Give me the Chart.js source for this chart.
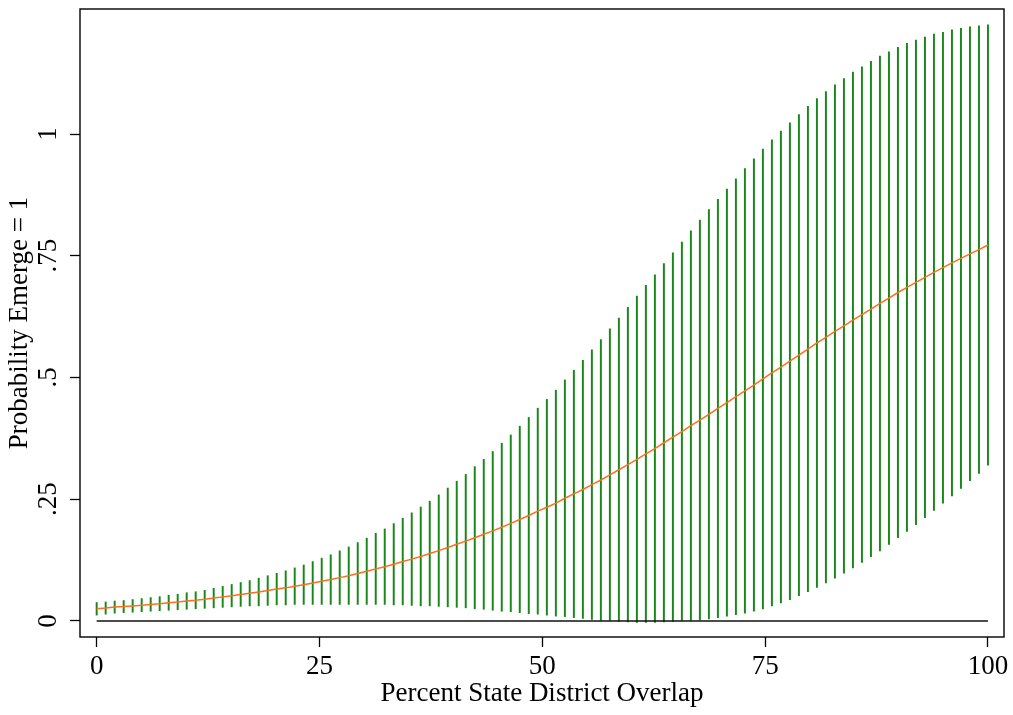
<!DOCTYPE html>
<html>
<head>
<meta charset="utf-8">
<script src="https://cdn.jsdelivr.net/npm/chart.js@4.4.1/dist/chart.umd.min.js"></script>
<style>
html,body{margin:0;padding:0;background:#fff;}
#wrap{width:1013px;height:715px;}
</style>
</head>
<body>
<div id="wrap"><canvas id="c" width="1013" height="715"></canvas></div>
<script>
// Percent State District Overlap (x positions of the 100 estimates)
const overlap = [0,1.01,2.02,3.03,4.04,5.05,6.06,7.07,8.08,9.09,
10.10,11.11,12.12,13.13,14.14,15.15,16.16,17.17,18.18,19.19,
20.20,21.21,22.22,23.23,24.24,25.25,26.26,27.27,28.28,29.29,
30.30,31.31,32.32,33.33,34.34,35.35,36.36,37.37,38.38,39.39,
40.40,41.41,42.42,43.43,44.44,45.45,46.46,47.47,48.48,49.49,
50.51,51.52,52.53,53.54,54.55,55.56,56.57,57.58,58.59,59.60,
60.61,61.62,62.63,63.64,64.65,65.66,66.67,67.68,68.69,69.70,
70.71,71.72,72.73,73.74,74.75,75.76,76.77,77.78,78.79,79.80,
80.81,81.82,82.83,83.84,84.85,85.86,86.87,87.88,88.89,89.90,
90.91,91.92,92.93,93.94,94.95,95.96,96.97,97.98,98.99,100];

// Predicted probability (orange line)
const predicted = [0.025,0.0265,0.0285,0.0295,0.031,0.0325,0.034,0.0355,0.0375,0.039,
0.041,0.0425,0.0445,0.047,0.0495,0.052,0.0545,0.057,0.0595,0.0625,
0.0655,0.068,0.0715,0.0745,0.078,0.0815,0.085,0.089,0.093,0.0975,
0.102,0.107,0.1115,0.1165,0.122,0.127,0.1325,0.1385,0.1445,0.151,
0.1575,0.164,0.171,0.178,0.185,0.1925,0.2005,0.2085,0.2165,0.2255,
0.2335,0.242,0.252,0.261,0.270,0.280,0.2895,0.300,0.3105,0.321,
0.332,0.343,0.354,0.366,0.3775,0.389,0.401,0.4125,0.4245,0.4365,
0.4485,0.4605,0.4725,0.4845,0.497,0.5095,0.5215,0.5335,0.546,0.5585,
0.571,0.5825,0.5945,0.606,0.618,0.629,0.6405,0.652,0.663,0.6745,
0.685,0.6955,0.7055,0.716,0.7255,0.7355,0.7445,0.754,0.7625,0.772];

// Upper confidence bound (top of green bars)
const upper = [0.038,0.039,0.041,0.042,0.044,0.046,0.048,0.050,0.053,0.055,
0.058,0.060,0.063,0.067,0.071,0.075,0.079,0.083,0.088,0.093,
0.098,0.103,0.109,0.115,0.122,0.129,0.136,0.144,0.152,0.161,
0.170,0.180,0.189,0.200,0.211,0.222,0.234,0.246,0.259,0.273,
0.287,0.301,0.317,0.332,0.348,0.365,0.382,0.400,0.418,0.437,
0.455,0.474,0.495,0.515,0.535,0.557,0.578,0.600,0.622,0.644,
0.667,0.689,0.711,0.734,0.756,0.778,0.801,0.823,0.845,0.866,
0.887,0.908,0.929,0.949,0.969,0.988,1.006,1.023,1.040,1.057,
1.073,1.087,1.101,1.114,1.127,1.138,1.149,1.160,1.169,1.178,
1.186,1.193,1.199,1.205,1.209,1.214,1.217,1.220,1.222,1.224];

// Lower confidence bound (bottom of green bars)
const lower = [0.012,0.014,0.016,0.017,0.018,0.019,0.020,0.021,0.022,0.023,
0.024,0.025,0.026,0.027,0.028,0.029,0.030,0.031,0.031,0.032,
0.033,0.033,0.034,0.034,0.034,0.034,0.034,0.034,0.034,0.034,
0.034,0.034,0.034,0.033,0.033,0.032,0.031,0.031,0.030,0.029,
0.028,0.027,0.025,0.024,0.022,0.020,0.019,0.017,0.015,0.014,
0.012,0.010,0.009,0.007,0.005,0.003,0.001,0.000,-0.001,-0.002,
-0.003,-0.003,-0.003,-0.002,-0.001,0.000,0.001,0.002,0.004,0.007,
0.010,0.013,0.016,0.020,0.025,0.031,0.037,0.044,0.052,0.060,
0.069,0.078,0.088,0.098,0.109,0.120,0.132,0.144,0.157,0.171,
0.184,0.198,0.212,0.227,0.242,0.257,0.272,0.288,0.303,0.320];

// Reference line at zero
const zeroLine = [0,0,0,0,0,0,0,0,0,0,
0,0,0,0,0,0,0,0,0,0,
0,0,0,0,0,0,0,0,0,0,
0,0,0,0,0,0,0,0,0,0,
0,0,0,0,0,0,0,0,0,0,
0,0,0,0,0,0,0,0,0,0,
0,0,0,0,0,0,0,0,0,0,
0,0,0,0,0,0,0,0,0,0,
0,0,0,0,0,0,0,0,0,0,
0,0,0,0,0,0,0,0,0,0];

const xTickValues = [0, 25, 50, 75, 100];
const yTickValues = [0, 0.25, 0.5, 0.75, 1];
const yTickLabels = ['0', '.25', '.5', '.75', '1'];
const xTitle = 'Percent State District Overlap';
const yTitle = 'Probability Emerge = 1';

const FONT = 'Liberation Serif';
const FS = 27;

const ciPoints = overlap.map((x, i) => ({x: x, y: [lower[i], upper[i]]}));
const predPoints = overlap.map((x, i) => ({x: x, y: predicted[i]}));
const zeroPoints = overlap.map((x, i) => ({x: x, y: zeroLine[i]}));

const framePlugin = {
  id: 'frame',
  afterDraw(chart) {
    const {ctx, chartArea: a} = chart;
    ctx.save();
    ctx.strokeStyle = '#000';
    ctx.lineWidth = 1.4;
    ctx.strokeRect(a.left, a.top, a.right - a.left, a.bottom - a.top);
    // rotated y tick labels
    const ys = chart.scales.y;
    ctx.fillStyle = '#000';
    ctx.font = FS + 'px "' + FONT + '"';
    ctx.textAlign = 'center';
    ctx.textBaseline = 'middle';
    yTickValues.forEach((v, i) => {
      const py = ys.getPixelForValue(v);
      ctx.save();
      ctx.translate(a.left - 31, py);
      ctx.rotate(-Math.PI / 2);
      ctx.fillText(yTickLabels[i], 0, 0);
      ctx.restore();
    });
    ctx.restore();
  }
};

new Chart(document.getElementById('c'), {
  type: 'line',
  data: {
    datasets: [
      {
        type: 'line',
        data: predPoints,
        borderColor: 'rgb(255,110,30)',
        borderWidth: 1.5,
        pointRadius: 0,
        tension: 0,
        fill: false,
        order: 1
      },
      {
        type: 'line',
        data: zeroPoints,
        borderColor: '#111',
        borderWidth: 1.5,
        pointRadius: 0,
        tension: 0,
        fill: false,
        order: 2
      },
      {
        type: 'bar',
        data: ciPoints,
        backgroundColor: 'rgb(25,135,25)',
        borderWidth: 0,
        barThickness: 1.3,
        grouped: false,
        order: 3
      }
    ]
  },
  options: {
    responsive: false,
    animation: false,
    devicePixelRatio: 1,
    layout: {padding: {left: 0, right: 9, top: 9, bottom: 0}},
    plugins: {legend: {display: false}, tooltip: {enabled: false}},
    scales: {
      x: {
        type: 'linear',
        min: -1.87,
        max: 101.8,
        offset: false,
        afterBuildTicks: s => { s.ticks = xTickValues.map(v => ({value: v})); },
        afterFit: s => { s.height = 78; },
        border: {display: false},
        grid: {offset: false, drawOnChartArea: false, drawTicks: true, tickLength: 10, tickColor: '#000', tickWidth: 1.3},
        ticks: {color: '#000', font: {family: FONT, size: FS}, padding: 4, maxRotation: 0, minRotation: 0},
        title: {display: true, text: xTitle, color: '#000', font: {family: FONT, size: FS}, padding: {top: 0, bottom: 5}}
      },
      y: {
        type: 'linear',
        min: -0.0329,
        max: 1.2567,
        afterBuildTicks: s => { s.ticks = yTickValues.map(v => ({value: v})); },
        afterFit: s => { s.width = 80; },
        border: {display: false},
        grid: {drawOnChartArea: false, drawTicks: true, tickLength: 10, tickColor: '#000', tickWidth: 1.3},
        ticks: {display: false},
        title: {display: true, text: yTitle, color: '#000', font: {family: FONT, size: FS}, padding: {top: 4, bottom: 0}}
      }
    }
  },
  plugins: [framePlugin]
});
</script>
</body>
</html>
